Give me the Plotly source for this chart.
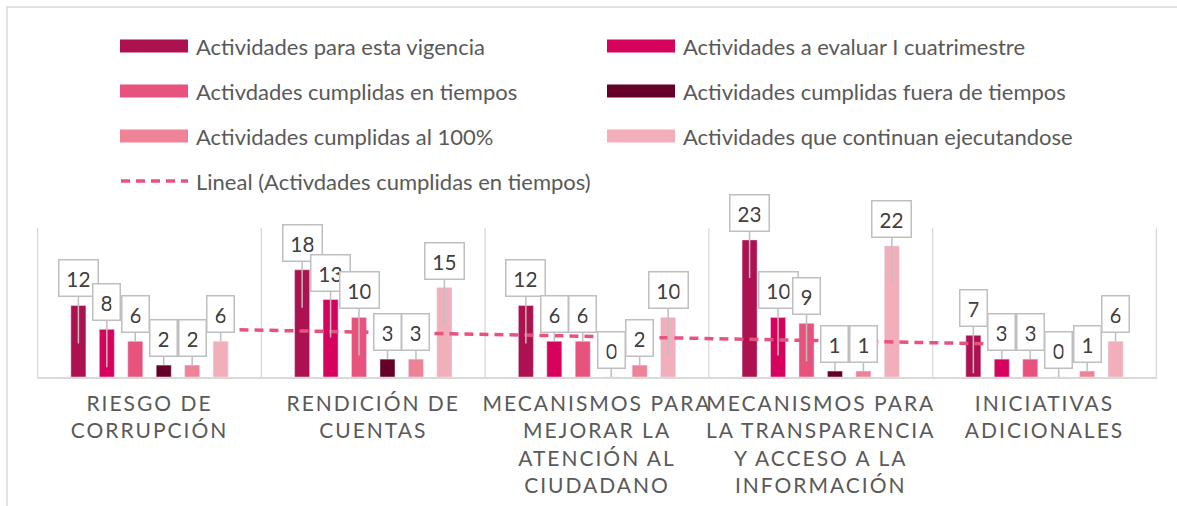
import numpy as np
import plotly.graph_objects as go

# ---------------- data ----------------
categories = [
    "Riesgo de corrupción",
    "Rendición de cuentas",
    "Mecanismos para mejorar la atención al ciudadano",
    "Mecanismos para la transparencia y acceso a la información",
    "Iniciativas adicionales",
]
tick_labels = [
    "RIESGO DE<br>CORRUPCIÓN",
    "RENDICIÓN DE<br>CUENTAS",
    "MECANISMOS PARA<br>MEJORAR LA<br>ATENCIÓN AL<br>CIUDADANO",
    "MECANISMOS PARA<br>LA TRANSPARENCIA<br>Y ACCESO A LA<br>INFORMACIÓN",
    "INICIATIVAS<br>ADICIONALES",
]
series_names = [
    "Actividades para esta vigencia",
    "Actividades a evaluar I cuatrimestre",
    "Activdades cumplidas en tiempos",
    "Actividades cumplidas fuera de tiempos",
    "Actividades cumplidas al 100%",
    "Actividades que continuan ejecutandose",
]
vigencia = [12, 18, 12, 23, 7]
evaluar = [8, 13, 6, 10, 3]
en_tiempos = [6, 10, 6, 9, 3]
fuera_tiempos = [2, 3, 0, 1, 0]
al_100 = [2, 3, 2, 1, 1]
continuan = [6, 15, 10, 22, 6]
trend_name = "Lineal (Activdades cumplidas en tiempos)"

series_values = [vigencia, evaluar, en_tiempos, fuera_tiempos, al_100, continuan]
colors = ["#AD1150", "#D6025E", "#E8537D", "#650028", "#EE8397", "#F2AEBB"]
trend_color = "#E8537D"

# ---------------- layout constants ----------------
W, H = 1177, 506
ML, MR, MT, MB = 37, 20, 228, 129
PW, PH = W - ML - MR, H - MT - MB
YMAX = 25
BARGAP, BARGROUPGAP = 0.237, 0.47
FONT = "Lato, 'Open Sans', sans-serif"
TXT = "#595959"
GRID = "#D9D9D9"


def px_x(p):
    return (p - ML) / PW


def px_y(p):
    return (H - MB - p) / PH


fig = go.Figure()
for name, vals, col in zip(series_names, series_values, colors):
    fig.add_trace(go.Bar(x=categories, y=vals, name=name, marker_color=col,
                         showlegend=False))

# linear trendline of "cumplidas en tiempos"
idx = np.arange(len(categories))
slope, intercept = np.polyfit(idx, en_tiempos, 1)
trend = slope * idx + intercept
fig.add_trace(go.Scatter(x=categories, y=trend, mode="lines", name=trend_name,
                         line=dict(color=trend_color, width=3.5, dash="9px,6px"),
                         showlegend=False))

shapes = []
# category separators
for i in range(len(categories) + 1):
    shapes.append(dict(type="line", xref="x", yref="paper", x0=i - 0.5, x1=i - 0.5,
                       y0=0, y1=1, line=dict(color=GRID, width=1.3), layer="below"))
# chart border
shapes.append(dict(type="rect", xref="paper", yref="paper",
                   x0=px_x(7), x1=px_x(1200), y0=px_y(530), y1=px_y(7),
                   line=dict(color=GRID, width=1.5)))

annotations = []
# manual legend
col_x = [120, 607]
row_y = [46, 91, 136]
for k, (name, col) in enumerate(zip(series_names, colors)):
    cx = col_x[k % 2]
    ry = row_y[k // 2]
    shapes.append(dict(type="rect", xref="paper", yref="paper",
                       x0=px_x(cx), x1=px_x(cx + 68), y0=px_y(ry + 6.5), y1=px_y(ry - 6.5),
                       fillcolor=col, line=dict(width=0)))
    annotations.append(dict(xref="paper", yref="paper", x=px_x(cx + 74), y=px_y(ry),
                            xanchor="left", yanchor="middle", showarrow=False, text=name,
                            font=dict(family=FONT, size=22, color=TXT)))
shapes.append(dict(type="line", xref="paper", yref="paper", x0=px_x(121), x1=px_x(188),
                   y0=px_y(181), y1=px_y(181),
                   line=dict(color=trend_color, width=3.5, dash="9px,6px")))
annotations.append(dict(xref="paper", yref="paper", x=px_x(194), y=px_y(181),
                        xanchor="left", yanchor="middle", showarrow=False, text=trend_name,
                        font=dict(family=FONT, size=22, color=TXT)))

# callout data labels
n = len(series_values)
slot = (1 - BARGAP) / n
px_per_unit = PH / YMAX
for j, vals in enumerate(series_values):
    for i, v in enumerate(vals):
        deep = v * px_per_unit > 38
        txt = str(v)
        annotations.append(dict(
            xref="x", yref="y", x=i + (j - (n - 1) / 2) * slot, y=v,
            text=txt, showarrow=True, arrowhead=0, arrowwidth=1.5, arrowcolor="#BFBFBF",
            ax=0, ay=-65 if deep else -27, axref="pixel", ayref="pixel",
            yshift=-38 if deep else 0, standoff=0,
            bgcolor="white", bordercolor="#BFBFBF", borderwidth=1.5, borderpad=8,
            width=10 if len(txt) == 1 else 22, height=19,
            font=dict(family=FONT, size=21, color="#404040")))

fig.update_layout(
    width=W, height=H, margin=dict(l=ML, r=MR, t=MT, b=MB, pad=0, autoexpand=False),
    paper_bgcolor="white", plot_bgcolor="white",
    barmode="group", bargap=BARGAP, bargroupgap=BARGROUPGAP,
    showlegend=False, shapes=shapes, annotations=annotations,
    xaxis=dict(type="category", tickvals=categories, ticktext=tick_labels,
               showgrid=False, showline=True, linecolor=GRID, linewidth=1.5,
               ticks="", ticklabelstandoff=7, automargin=False,
               tickfont=dict(family=FONT, size=21, color=TXT)),
    yaxis=dict(range=[0, YMAX], visible=False, automargin=False),
)

post = ("document.body.style.margin='0';"
        "document.querySelectorAll('.xtick text').forEach(function(t){"
        "t.style.letterSpacing='2px';});")
fig.write_html("out.html", post_script=post, config={"displayModeBar": False})
